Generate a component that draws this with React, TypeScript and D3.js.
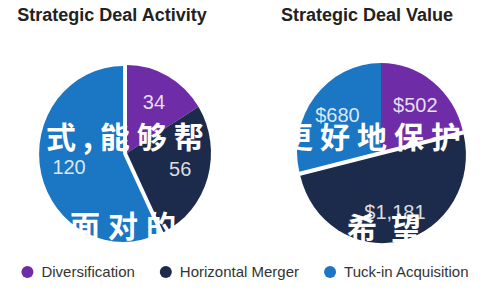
import React, { useEffect, useRef } from "react";
import * as d3 from "d3";

const categories = ["Diversification", "Horizontal Merger", "Tuck-in Acquisition"];
const colors = ["#6E2CA6", "#1C2B4B", "#1B76C3"];
const activityValues = [34, 56, 120];
const dealValues = [502, 1181, 680];
const chartTitles = ["Strategic Deal Activity", "Strategic Deal Value"];
const watermarkLine1 = ["式,能够帮", "更好地保护"];
const watermarkLine2 = ["面对的", "希望"];

const W = 500;
const H = 300;

export default function App() {
  const ref = useRef<SVGSVGElement | null>(null);

  useEffect(() => {
    const svg = d3.select(ref.current);
    svg.selectAll("*").remove();

    const rx = 84;
    const ry = 88;
    const explode = 4;
    const panels = [
      { cx: 127, cy: 153, titleX: 112, values: activityValues, fmt: (v: number) => String(v) },
      { cx: 381, cy: 151, titleX: 367, values: dealValues, fmt: (v: number) => "$" + d3.format(",")(v) },
    ];

    const pie = d3.pie<number>().sort(null).value((d) => d);
    const arc = d3.arc<d3.PieArcDatum<number>>().innerRadius(0).outerRadius(rx);
    const labelArc = d3.arc<d3.PieArcDatum<number>>().innerRadius(rx * 0.66).outerRadius(rx * 0.66);

    panels.forEach((p, pi) => {
      svg
        .append("text")
        .attr("x", p.titleX)
        .attr("y", 21)
        .attr("text-anchor", "middle")
        .attr("font-family", "'Liberation Sans', Arial, sans-serif")
        .attr("font-weight", "bold")
        .attr("font-size", 18)
        .attr("fill", "#222")
        .text(chartTitles[pi]);

      const arcs = pie(p.values);
      const maxV = d3.max(p.values) as number;
      const g = svg.append("g").attr("transform", `translate(${p.cx},${p.cy})`);
      const shapes = g.append("g").attr("transform", `scale(1,${ry / rx})`);
      arcs.forEach((a, i) => {
        const mid = (a.startAngle + a.endAngle) / 2;
        const off = a.value === maxV ? explode : 0;
        shapes
          .append("path")
          .attr("d", arc(a) as string)
          .attr("fill", colors[i])
          .attr("transform", `translate(${Math.sin(mid) * off},${-Math.cos(mid) * off})`);
      });
      arcs.forEach((a, i) => {
        const mid = (a.startAngle + a.endAngle) / 2;
        const off = a.value === maxV ? explode : 0;
        const [lx, ly] = labelArc.centroid(a);
        g.append("text")
          .attr("x", lx + Math.sin(mid) * off)
          .attr("y", (ly - Math.cos(mid) * off) * (ry / rx))
          .attr("dy", "0.35em")
          .attr("text-anchor", "middle")
          .attr("font-family", "'Liberation Sans', Arial, sans-serif")
          .attr("font-size", 20)
          .attr("fill", "rgba(255,255,255,0.85)")
          .text(p.fmt(a.value));
      });
    });

    // watermark overlay text
    const wm = svg
      .append("g")
      .attr("font-family", "'Noto Sans CJK SC', sans-serif")
      .attr("font-weight", 700)
      .attr("font-size", 30)
      .attr("fill", "#ffffff");
    wm.append("text").attr("x", 46).attr("y", 148).attr("letter-spacing", 7).text(watermarkLine1[0]);
    wm.append("text").attr("x", 283).attr("y", 148).attr("letter-spacing", 7).text(watermarkLine1[1]);
    wm.append("text").attr("x", 70).attr("y", 237).attr("letter-spacing", 8).text(watermarkLine2[0]);
    wm.append("text").attr("x", 347).attr("y", 239).attr("letter-spacing", 14).text(watermarkLine2[1]);

    // legend
    const legend = svg.append("g");
    let x = 0;
    categories.forEach((c, i) => {
      const item = legend.append("g").attr("transform", `translate(${x},0)`);
      item.append("circle").attr("cx", 6).attr("cy", 0).attr("r", 6).attr("fill", colors[i]);
      const t = item
        .append("text")
        .attr("x", 20)
        .attr("y", 0)
        .attr("dy", "0.35em")
        .attr("font-family", "'Liberation Sans', Arial, sans-serif")
        .attr("font-size", 15)
        .attr("fill", "#333")
        .text(c);
      const tw = (t.node() as SVGTextElement).getComputedTextLength();
      x += 20 + tw + 25;
    });
    const total = x - 25;
    legend.attr("transform", `translate(${245 - total / 2},272)`);
  }, []);

  return (
    <svg
      ref={ref}
      width={W}
      height={H}
      style={{ position: "absolute", left: 0, top: 0, background: "#fff" }}
    />
  );
}
